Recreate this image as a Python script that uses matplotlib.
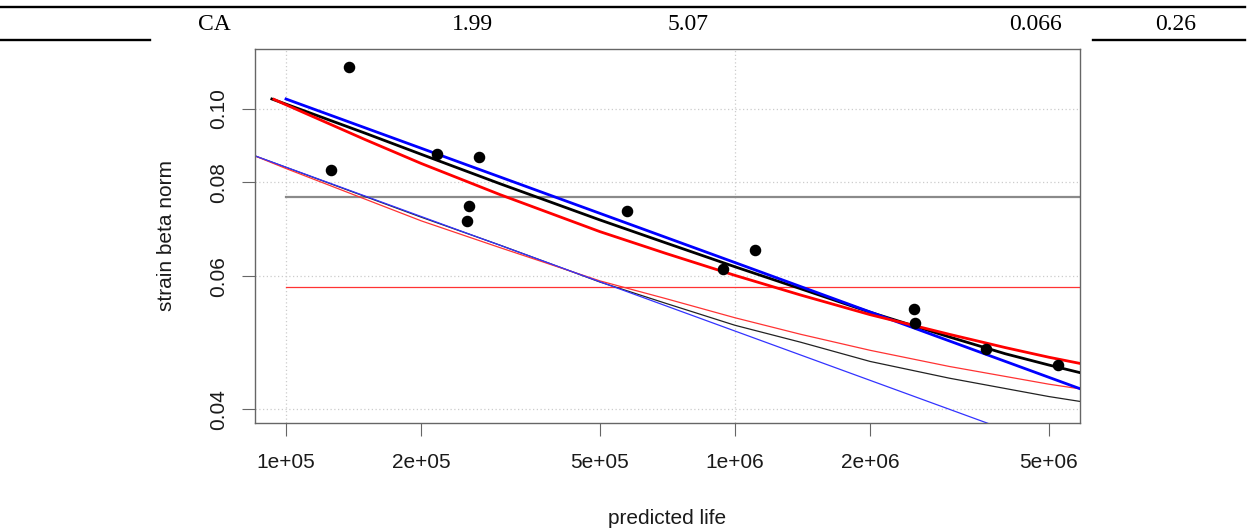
import matplotlib
matplotlib.use("Agg")
import matplotlib.pyplot as plt
from matplotlib.lines import Line2D
from matplotlib.ticker import FixedLocator, FixedFormatter, NullLocator

# ---- table row printed above the figure ----
row_values = ["CA", "1.99", "5.07", "0.066", "0.26"]

# ---- observed specimens ----
obs_life = [1.258e5, 1.381e5, 2.165e5, 2.533e5, 2.56e5, 2.69e5, 5.76e5,
            9.42e5, 1.108e6, 2.504e6, 2.52e6, 3.62e6, 5.24e6]
obs_strain = [0.0829, 0.1138, 0.0873, 0.0711, 0.0744, 0.0863, 0.0733,
              0.0614, 0.0650, 0.0543, 0.0520, 0.0481, 0.0458]

# ---- fitted curves (mean) ----
black_fit_life = [9.3e4, 1e5, 1.5e5, 2e5, 3e5, 5e5, 7e5, 1e6, 1.4e6, 2e6,
                  3e6, 4e6, 5e6, 6e6]
black_fit_strain = [0.1031, 0.1015, 0.0929, 0.0871, 0.0796, 0.0713, 0.0665,
                    0.0618, 0.0578, 0.0538, 0.0499, 0.0474, 0.0458, 0.0446]

red_fit_life = [9.4e4, 1e5, 1.5e5, 2e5, 3e5, 5e5, 7e5, 1e6, 1.4e6, 2e6,
                3e6, 4e6, 5e6, 6e6]
red_fit_strain = [0.1030, 0.1013, 0.0911, 0.0847, 0.0770, 0.0688, 0.0644,
                  0.0602, 0.0567, 0.0534, 0.0503, 0.0483, 0.0469, 0.0459]

blue_fit_life = [1e5, 1e6, 6e6]
blue_fit_strain = [0.1031, 0.0626, 0.0424]

# ---- lower design curves ----
blue_low_life = [8e4, 1e6, 4e6]
blue_low_strain = [0.0879, 0.0508, 0.0376]

low_life = [8e4, 1e5, 2e5, 3e5, 5e5, 7e5, 1e6, 1.4e6, 2e6, 3e6, 5e6, 6e6]
black_low_strain = [0.0879, 0.0837, 0.0719, 0.0660, 0.0590, 0.0553, 0.0517,
                    0.0491, 0.0463, 0.0440, 0.0416, 0.0409]
red_low_strain = [0.0880, 0.0834, 0.0711, 0.0655, 0.0592, 0.0561, 0.0529,
                  0.0503, 0.0479, 0.0456, 0.0432, 0.0425]

# ---- constant limits ----
hline_start = 1e5
gray_limit = 0.0765
red_limit = 0.0581

# ---- axes ----
x_range = (8.53e4, 5.867e6)
y_range = (0.03841, 0.12016)
x_ticks = [1e5, 2e5, 5e5, 1e6, 2e6, 5e6]
x_tick_labels = ["1e+05", "2e+05", "5e+05", "1e+06", "2e+06", "5e+06"]
y_ticks = [0.04, 0.06, 0.08, 0.10]
y_tick_labels = ["0.04", "0.06", "0.08", "0.10"]
x_grid = [1e5, 1e6]

W, H = 1250, 528
fig = plt.figure(figsize=(W / 100, H / 100), dpi=100)
fig.patch.set_facecolor("white")

sans = "Liberation Sans"
serif = "Liberation Serif"
frame_col = "#666666"
text_col = "#1a1a1a"

# table rules and cells
def fy(py):
    return 1 - py / H

fig.add_artist(Line2D([0, 1245 / W], [fy(7), fy(7)], color="black", lw=1.7,
                      transform=fig.transFigure))
for x0, x1 in [(0, 150), (1093, 1245)]:
    fig.add_artist(Line2D([x0 / W, x1 / W], [fy(39.5), fy(39.5)], color="black",
                          lw=1.7, transform=fig.transFigure))
row_centres_px = [214, 472, 688, 1035, 1176]
for txt, cx in zip(row_values, row_centres_px):
    fig.text(cx / W, fy(30), txt, ha="center", va="baseline",
             fontsize=17, family=serif, color="black")

left, right, top, bottom = 255, 1080, 48.8, 422.7
ax = fig.add_axes([left / W, fy(bottom), (right - left) / W, (bottom - top) / H])
ax.set_xscale("log")
ax.set_yscale("log")
ax.set_xlim(*x_range)
ax.set_ylim(*y_range)

# dotted grid
for gx in x_grid:
    ax.axvline(gx, color="#cccccc", lw=0.9, ls=(0, (1, 2)), zorder=0)
for gy in y_ticks:
    ax.axhline(gy, color="#cccccc", lw=0.9, ls=(0, (1, 2)), zorder=0)

# constant limits
ax.plot([hline_start, 1e7], [gray_limit, gray_limit], color="#8a8a8a", lw=1.6, zorder=1)
ax.plot([hline_start, 1e7], [red_limit, red_limit], color="#ff3333", lw=0.9, zorder=1)

# lower design curves
ax.plot(low_life, black_low_strain, color="#222222", lw=0.9, zorder=2)
ax.plot(low_life, red_low_strain, color="#ff3333", lw=0.9, zorder=2)
ax.plot(blue_low_life, blue_low_strain, color="#3333ff", lw=0.9, zorder=2)

# mean fits
ax.plot(black_fit_life, black_fit_strain, color="black", lw=2.0, zorder=3)
ax.plot(blue_fit_life, blue_fit_strain, color="#0000ff", lw=2.0, zorder=3)
ax.plot(red_fit_life, red_fit_strain, color="#ff0000", lw=2.0, zorder=3)

# specimens
ax.plot(obs_life, obs_strain, ls="none", marker="o", ms=7.3, color="black", zorder=4)

# frame and ticks
for sp in ax.spines.values():
    sp.set_color(frame_col)
    sp.set_linewidth(1.0)
ax.xaxis.set_major_locator(FixedLocator(x_ticks))
ax.xaxis.set_major_formatter(FixedFormatter(x_tick_labels))
ax.xaxis.set_minor_locator(NullLocator())
ax.yaxis.set_major_locator(FixedLocator(y_ticks))
ax.yaxis.set_major_formatter(FixedFormatter(y_tick_labels))
ax.yaxis.set_minor_locator(NullLocator())
ax.tick_params(axis="both", direction="out", length=9.4, width=0.8,
               color=frame_col, labelcolor=text_col, labelsize=15)
ax.tick_params(axis="x", pad=12.5)
ax.tick_params(axis="y", pad=10.3)
for lab in ax.get_xticklabels() + ax.get_yticklabels():
    lab.set_family(sans)
for lab in ax.get_yticklabels():
    lab.set_rotation(90)
    lab.set_va("center")

# axis titles
fig.text(171.5 / W, fy((top + bottom) / 2), "strain beta norm", rotation=90,
         rotation_mode="anchor", ha="center", va="baseline", fontsize=15,
         family=sans, color=text_col)
fig.text((left + right) / 2 / W, fy(523.5), "predicted life", ha="center",
         va="baseline", fontsize=15, family=sans, color=text_col)

fig.savefig("out.png", dpi=100)
